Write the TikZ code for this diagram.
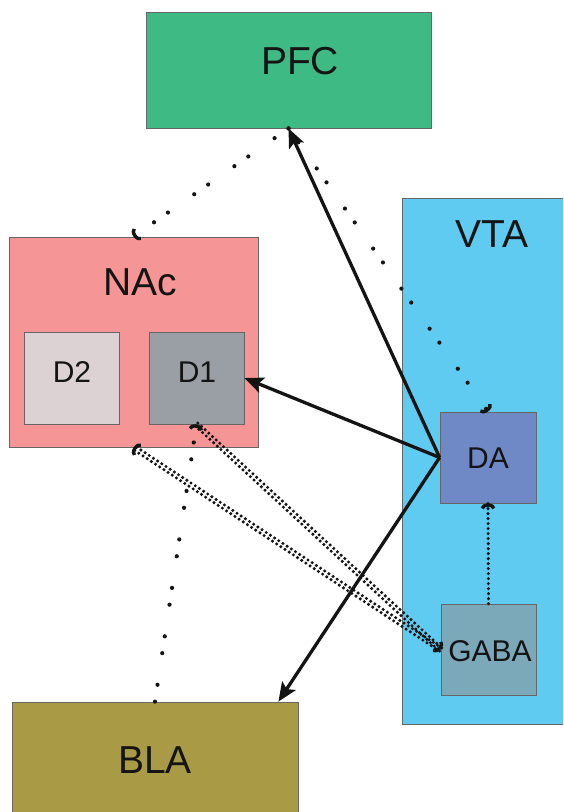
\documentclass[tikz,border=0pt]{standalone}
\usepackage{fontspec}
\setmainfont{Liberation Sans}
\usetikzlibrary{arrows.meta,calc}

\definecolor{pfcgreen}{HTML}{3EBB85}
\definecolor{nacpink}{HTML}{F59595}
\definecolor{dtwo}{HTML}{DCD2D3}
\definecolor{done}{HTML}{9A9FA5}
\definecolor{vtablue}{HTML}{5FCBF0}
\definecolor{dablue}{HTML}{6F89C7}
\definecolor{gabateal}{HTML}{7BA9B9}
\definecolor{blaolive}{HTML}{A99B45}
\definecolor{ink}{HTML}{141414}

\begin{document}
\begin{tikzpicture}[x=1pt,y=-1pt,
  region/.style={draw=black!60,line width=0.8pt,inner sep=0pt,anchor=center},
  big/.style={font=\fontsize{39}{39}\selectfont,text=ink,inner sep=0pt,anchor=center},
  small/.style={font=\fontsize{30}{30}\selectfont,text=ink,inner sep=0pt,anchor=center},
  proj/.style={draw=ink,line width=3.3pt,-{Stealth[length=19pt,width=16pt,inset=4pt]}},
  sparse/.style={draw=ink,line width=4.2pt,line cap=round,dash pattern=on 0pt off 17pt on 0pt off 32pt},
  dense/.style={draw=ink,line width=3.4pt,line cap=round,dash pattern=on 0pt off 5pt},
  endcap/.style={-{Arc Barb[width=15pt,length=5pt,line width=3.4pt]}},
  caponly/.style={draw=ink,line width=3.4pt,line cap=butt,dash pattern=on 0pt off 3000pt}
]
% canvas
\clip (0,0) rectangle (563,812);
\fill[white] (0,0) rectangle (563,812);

% regions
\node[region,fill=pfcgreen,minimum width=285pt,minimum height=116pt] (pfc) at (288.5,70) {};
\node[region,fill=nacpink,minimum width=249pt,minimum height=210pt] (nac) at (133.5,342) {};
\node[region,fill=dtwo,minimum width=95pt,minimum height=92pt] (d2) at (71.5,378) {};
\node[region,fill=done,minimum width=95pt,minimum height=92pt] (d1) at (196.5,378) {};
\node[region,fill=vtablue,minimum width=170pt,minimum height=526pt] (vta) at (487,461) {};
\node[region,fill=dablue,minimum width=96pt,minimum height=91pt] (da) at (488,457.5) {};
\node[region,fill=gabateal,minimum width=95pt,minimum height=91pt] (gaba) at (488.5,649.5) {};
\node[region,fill=blaolive,minimum width=286pt,minimum height=130pt] (bla) at (155,767) {};

% labels
\node[big] (pfcText) at (300,61) {PFC};
\node[big] (nacText) at (140,282) {NAc};
\node[big] (vtaText) at (492,234) {VTA};
\node[big] (blaText) at (155,760) {BLA};
\node[small] (d2Text) at (72,372) {D2};
\node[small] (d1Text) at (197,372) {D1};
\node[small] (daText) at (488,458) {DA};
\node[small] (gabaText) at (490,651) {GABA};

% attachment points
\coordinate (blaIn) at ($(bla.north east)+(-20,0)$);
\coordinate (blaOut) at (bla.north);

% dopamine projections
\draw[proj] (da.west) -- (pfc.south);
\draw[proj] (da.west) -- (d1.east);
\draw[proj] (da.west) -- (blaIn);

% sparse dotted pathways
\draw[sparse] (pfc.south) -- (nac.north);
\draw[endcap,caponly] (pfc.south) -- (nac.north);
\draw[sparse] (pfc.south) -- (da.north);
\draw[endcap,caponly] (pfc.south) -- (da.north);
\draw[sparse] (blaOut) -- (d1.south);
\draw[endcap,caponly] (blaOut) -- (d1.south);

% dense dotted pathways
\draw[dense] (gaba.north) -- (da.south);
\draw[endcap,caponly] (gaba.north) -- (da.south);

\draw[dense] ($(d1.south)!1.9pt!90:(gaba.west)$) -- ($(gaba.west)!1.9pt!-90:(d1.south)$);
\draw[dense] ($(d1.south)!1.9pt!-90:(gaba.west)$) -- ($(gaba.west)!1.9pt!90:(d1.south)$);
\draw[endcap,caponly] (d1.south) -- (gaba.west);

\draw[dense] ($(gaba.west)!1.9pt!90:(nac.south)$) -- ($(nac.south)!1.9pt!-90:(gaba.west)$);
\draw[dense] ($(gaba.west)!1.9pt!-90:(nac.south)$) -- ($(nac.south)!1.9pt!90:(gaba.west)$);
\draw[endcap,caponly] (gaba.west) -- (nac.south);
\end{tikzpicture}
\end{document}
